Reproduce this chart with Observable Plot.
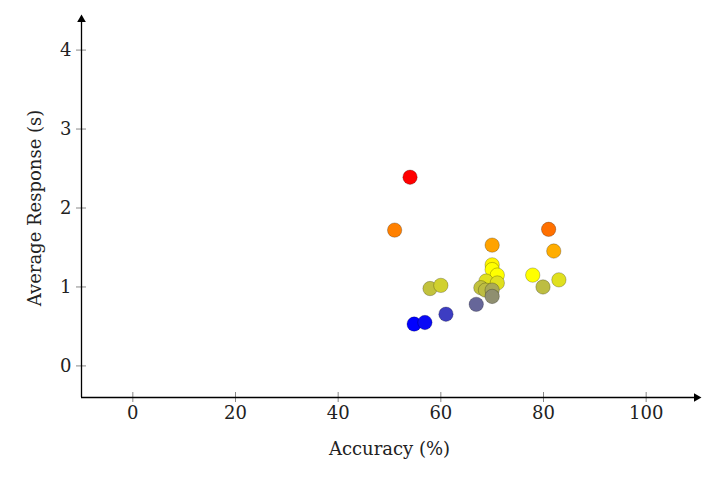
<!DOCTYPE html>
<html>
<head>
<meta charset="utf-8">
<script src="https://cdn.jsdelivr.net/npm/d3@7"></script>
<script src="https://cdn.jsdelivr.net/npm/@observablehq/plot@0.6"></script>
<style>
  html, body { margin: 0; padding: 0; background: #fff; }
</style>
</head>
<body>
<div id="chart"></div>
<script>
// Accuracy (%) per model
const accuracy = [54, 51, 81, 82, 70, 70, 70, 71, 68.8, 71, 67.8, 68.7, 70, 70, 57.9, 60, 66.9, 61, 54.8, 56.9, 77.9, 79.9, 83];
// Average response time (s)
const response = [2.39, 1.72, 1.73, 1.455, 1.53, 1.28, 1.22, 1.15, 1.075, 1.05, 0.99, 0.96, 0.96, 0.88, 0.98, 1.02, 0.78, 0.655, 0.53, 0.55, 1.15, 1.0, 1.09];
// colour meta value (0 = blue, 0.5 = yellow, 1 = red)
const meta = [1.0, 0.75, 0.78, 0.66, 0.68, 0.52, 0.5, 0.5, 0.44, 0.44, 0.38, 0.37, 0.33, 0.28, 0.38, 0.41, 0.2, 0.12, 0.0, 0.02, 0.5, 0.37, 0.44];

const xTicks = [0, 20, 40, 60, 80, 100];
const yTicks = [0, 1, 2, 3, 4];
const xDomain = [-10, 110];
const yDomain = [-0.4, 4.4];

const data = accuracy.map((a, i) => ({x: a, y: response[i], m: meta[i]}));

const chart = Plot.plot({
  width: 715,
  height: 482,
  marginTop: 18,
  marginRight: 18,
  marginBottom: 85,
  marginLeft: 81,
  style: {fontFamily: "'DejaVu Serif', serif", fontSize: "18px", color: "#222", background: "#fff"},
  x: {domain: xDomain},
  y: {domain: yDomain},
  color: {type: "linear", domain: [0, 1], interpolate: d3.piecewise(d3.interpolateRgb, ["blue", "yellow", "red"])},
  marks: [
    // tick marks crossing the axes
    Plot.axisX(xTicks, {tickSize: 10, dy: -5, fill: "none", stroke: "#888", label: null}),
    Plot.axisY(yTicks, {tickSize: 10, dx: 5, fill: "none", stroke: "#888", label: null}),
    // tick labels and axis titles
    Plot.axisX(xTicks, {tickSize: 0, tickPadding: 9, fontSize: 18, tickFormat: d3.format("d"), label: "Accuracy (%)", labelArrow: "none", labelAnchor: "center", labelOffset: 57}),
    Plot.axisY(yTicks, {tickSize: 0, tickPadding: 10, fontSize: 18, tickFormat: d3.format("d"), label: "Average Response (s)", labelArrow: "none", labelAnchor: "center", labelOffset: 53}),
    // axis lines with arrowheads
    Plot.ruleX([xDomain[0]], {stroke: "black", strokeWidth: 1.3}),
    Plot.ruleY([yDomain[0]], {stroke: "black", strokeWidth: 1.3}),
    Plot.dot([{x: xDomain[0], y: yDomain[1]}], {x: "x", y: "y", symbol: "triangle", r: 3.2, fill: "black", stroke: "none", dy: 1}),
    Plot.dot([{x: xDomain[1], y: yDomain[0]}], {x: "x", y: "y", symbol: "triangle", r: 3.2, fill: "black", stroke: "none", rotate: 90, dx: -1}),
    // data points
    Plot.dot(data, {x: "x", y: "y", fill: "m", r: 7.2, stroke: "black", strokeOpacity: 0.3, strokeWidth: 0.8})
  ]
});
document.getElementById("chart").appendChild(chart);
</script>
</body>
</html>
